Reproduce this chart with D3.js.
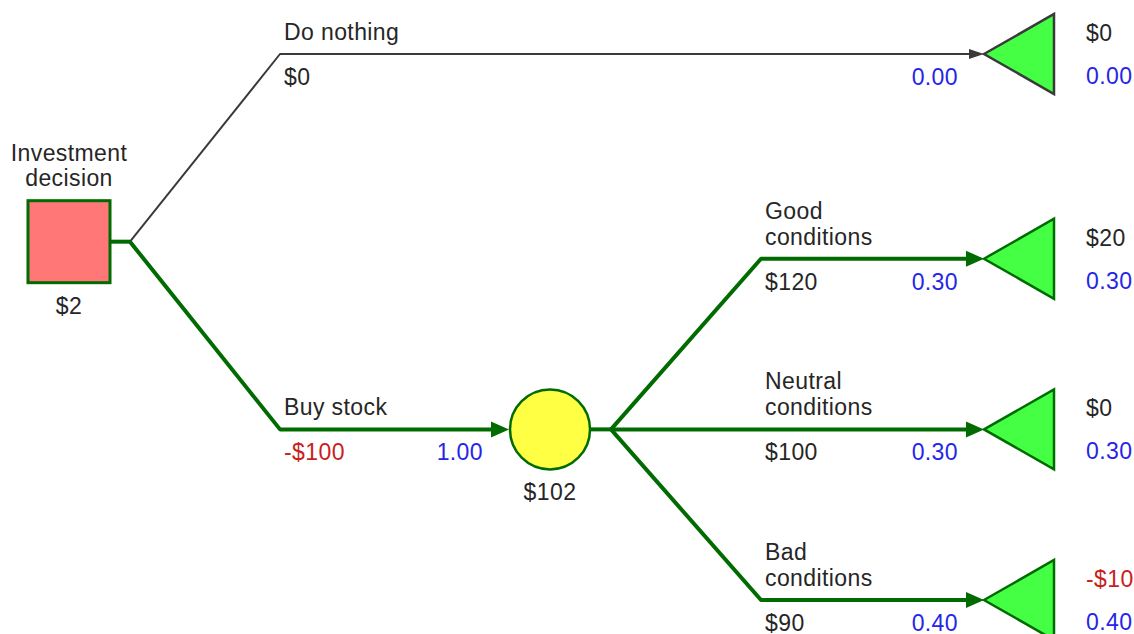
<!DOCTYPE html>
<html>
<head>
<meta charset="utf-8">
<script src="https://cdn.jsdelivr.net/npm/d3@7"></script>
<style>
  body { margin: 0; background: #fff; }
  text { font-family: "Liberation Sans", Arial, sans-serif; font-size: 23px; letter-spacing: 0.4px; }
</style>
</head>
<body>
<svg id="chart" width="1134" height="634"></svg>
<script>
// decision / chance node data
var decisionName = "Investment\ndecision"
var decisionValue = 2
var chanceValue = 102

// branches out of the decision node
var choiceNames = ["Do nothing", "Buy stock"]
var choiceValues = [0, -100]
var choiceProbs = [0, 1]
var choiceOptimal = [false, true]

// branches out of the chance node
var outcomeNames = ["Good\nconditions", "Neutral\nconditions", "Bad\nconditions"]
var outcomeValues = [120, 100, 90]
var outcomeProbs = [0.3, 0.3, 0.4]

// terminal payoffs and path probabilities (Do nothing, Good, Neutral, Bad)
var payoffs = [0, 20, 0, -10]
var payoffProbs = [0, 0.3, 0.3, 0.4]
var leafRows = [0, 1.2, 2.2, 3.2]

var green = "#006b00", gray = "#3a3a3a"
var blue = "#2525e8", red = "#c81e1e", ink = "#262626"

var svg = d3.select("#chart")
var xScale = d3.scaleLinear().domain([0, 1, 2]).range([69, 550, 984])
var yScale = d3.scaleLinear().domain([0, 3.2]).range([54, 600])

money = function(v) {
  return (v < 0 ? "-$" : "$") + Math.abs(v)
}

// build tree
var leaves = payoffs.map(function(p, i) {
  return {type: "terminal", payoff: p, prob: payoffProbs[i], y: yScale(leafRows[i]), x: xScale(2)}
})
var chance = {type: "chance", value: chanceValue, x: xScale(1), children: []}
outcomeNames.forEach(function(n, i) {
  chance.children.push({name: n, value: outcomeValues[i], prob: outcomeProbs[i], optimal: true, node: leaves[i + 1]})
})
chance.y = (chance.children[0].node.y + chance.children[2].node.y) / 2
var root = {type: "decision", name: decisionName, value: decisionValue, x: xScale(0), children: [
  {name: choiceNames[0], value: choiceValues[0], prob: choiceProbs[0], optimal: choiceOptimal[0], node: leaves[0]},
  {name: choiceNames[1], value: choiceValues[1], prob: choiceProbs[1], optimal: choiceOptimal[1], node: chance}
]}
root.y = (root.children[0].node.y + root.children[1].node.y) / 2

var half = {decision: 41, chance: 41}
var stub = 20, bend = 150

drawBranches = function(p) {
  if (!p.children) return
  var sx = p.x + half[p.type]
  svg.append("line")
    .attr("x1", sx).attr("x2", sx + stub)
    .attr("y1", p.y).attr("y2", p.y)
    .attr("stroke", green).attr("stroke-width", 4)
  p.children.forEach(function(b) {
    var c = b.node
    var col = b.optimal ? green : gray
    var w = b.optimal ? 4 : 2
    var ah = b.optimal ? 18 : 15, aw = b.optimal ? 8 : 5
    var bx = sx + stub + bend
    var ex = c.type == "terminal" ? c.x : c.x - half[c.type]
    svg.append("path")
      .attr("d", "M" + (sx + stub) + "," + p.y + "L" + bx + "," + c.y + "L" + (ex - ah + 2) + "," + c.y)
      .attr("fill", "none").attr("stroke", col).attr("stroke-width", w)
      .attr("stroke-linejoin", "round")
    svg.append("path")
      .attr("d", "M" + (ex - ah) + "," + (c.y - aw) + "L" + ex + "," + c.y + "L" + (ex - ah) + "," + (c.y + aw) + "Z")
      .attr("fill", col)

    var lines = b.name.split("\n")
    lines.forEach(function(l, i) {
      svg.append("text").attr("x", bx + 4).attr("y", c.y - 14 - 26 * (lines.length - 1 - i))
        .attr("fill", ink).text(l)
    })
    svg.append("text").attr("x", bx + 4).attr("y", c.y + 31)
      .attr("fill", b.value < 0 ? red : ink).text(money(b.value))
    svg.append("text").attr("x", ex - 26).attr("y", c.y + 31)
      .attr("text-anchor", "end").attr("fill", blue).text(b.prob.toFixed(2))

    drawNode(c, b.optimal)
    drawBranches(c)
  })
}

drawNode = function(n, optimal) {
  if (n.type == "decision") {
    svg.append("rect").attr("x", n.x - 41).attr("y", n.y - 41)
      .attr("width", 82).attr("height", 82)
      .attr("fill", "#ff7777").attr("stroke", green).attr("stroke-width", 3)
    var lines = n.name.split("\n")
    lines.forEach(function(l, i) {
      svg.append("text").attr("x", n.x).attr("y", n.y - 56 - 25 * (lines.length - 1 - i))
        .attr("text-anchor", "middle").attr("fill", ink).text(l)
    })
    svg.append("text").attr("x", n.x).attr("y", n.y + 72)
      .attr("text-anchor", "middle").attr("fill", ink).text(money(n.value))
  } else if (n.type == "chance") {
    svg.append("circle").attr("cx", n.x).attr("cy", n.y).attr("r", 40)
      .attr("fill", "#ffff44").attr("stroke", green).attr("stroke-width", 2.5)
    svg.append("text").attr("x", n.x).attr("y", n.y + 71)
      .attr("text-anchor", "middle").attr("fill", ink).text(money(n.value))
  } else {
    svg.append("path")
      .attr("d", "M" + n.x + "," + n.y + "L" + (n.x + 70) + "," + (n.y - 40) + "L" + (n.x + 70) + "," + (n.y + 40) + "Z")
      .attr("fill", "#44ff44").attr("stroke", optimal ? green : gray).attr("stroke-width", 2.5)
      .attr("stroke-linejoin", "miter")
    svg.append("text").attr("x", n.x + 102).attr("y", n.y - 13)
      .attr("fill", n.payoff < 0 ? red : ink).text(money(n.payoff))
    svg.append("text").attr("x", n.x + 102).attr("y", n.y + 30)
      .attr("fill", blue).text(n.prob.toFixed(2))
  }
}

drawBranches(root)
drawNode(root)
</script>
</body>
</html>
